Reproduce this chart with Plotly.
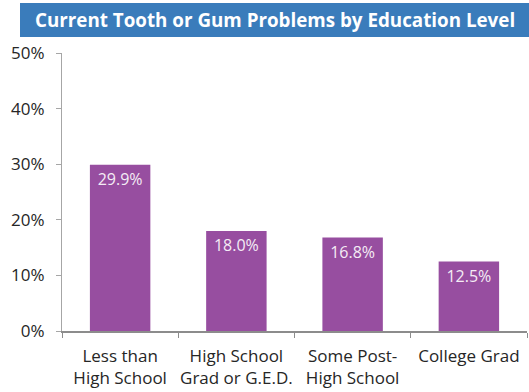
import plotly.graph_objects as go

categories = ["Less than<br>High School", "High School<br>Grad or G.E.D.", "Some Post-<br>High School", "College Grad"]
values = [29.9, 18.0, 16.8, 12.5]
labels = ["29.9%", "18.0%", "16.8%", "12.5%"]
y_ticks = [0, 10, 20, 30, 40, 50]
y_ticklabels = ["0%", "10%", "20%", "30%", "40%", "50%"]
title = "Current Tooth or Gum Problems by Education Level"

W, H = 529, 392
ml, mr, mt, mb = 62, 2, 53, 61

fig = go.Figure(go.Bar(
    x=categories, y=values, text=labels,
    textposition="inside", insidetextanchor="end",
    textfont=dict(color="#f4ecf5", size=16, family="Open Sans"),
    marker=dict(color="#974ea0", line=dict(width=0)),
    cliponaxis=False,
))

fig.update_layout(
    width=W, height=H,
    margin=dict(l=ml, r=mr, t=mt, b=mb, autoexpand=False),
    paper_bgcolor="white", plot_bgcolor="white",
    bargap=0.48,
    showlegend=False,
    font=dict(family="Open Sans", color="#262626"),
)
fig.update_xaxes(
    showline=True, linecolor="#8c8c8c", linewidth=1.5,
    ticks="outside", tickson="boundaries", ticklen=5, tickcolor="#8c8c8c",
    tickfont=dict(size=17, color="#262626"),
    ticklabelstandoff=9, tickangle=0, automargin=False,
    showgrid=False, fixedrange=True,
)
fig.update_yaxes(
    range=[0, 50], tickvals=y_ticks, ticktext=y_ticklabels,
    showline=True, linecolor="#a6a6a6", linewidth=1,
    ticks="outside", ticklen=5, tickcolor="#a6a6a6",
    tickfont=dict(size=17, color="#262626"),
    ticklabelstandoff=8, automargin=False,
    showgrid=False, zeroline=False, fixedrange=True,
)
# title banner
fig.add_shape(type="rect", xref="paper", yref="paper",
              x0=(20 - ml) / (W - ml - mr), x1=1.0 + mr / (W - ml - mr),
              y0=1 + (mt - 37) / (H - mt - mb),
              y1=1 + (mt - 3) / (H - mt - mb),
              fillcolor="#3a7cbb", line=dict(width=0), layer="below")
fig.add_annotation(text="<b>" + title + "</b>", xref="paper", yref="paper",
                   x=((20 + 529) / 2 - ml) / (W - ml - mr), y=1 + (mt - 20) / (H - mt - mb),
                   showarrow=False, xanchor="center", yanchor="middle",
                   font=dict(color="white", size=18.8, family="Open Sans"))

fig.write_html("out.html")
